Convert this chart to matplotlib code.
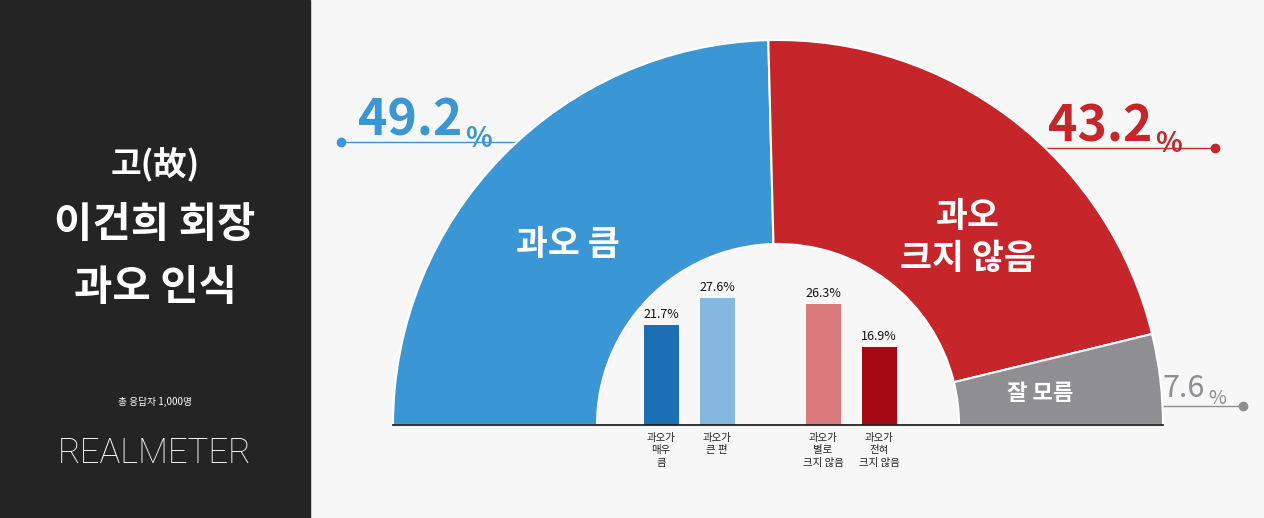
import matplotlib
matplotlib.use("Agg")
import matplotlib.pyplot as plt
from matplotlib.patches import Wedge, Rectangle

plt.rcParams['font.family'] = ['Noto Sans CJK KR', 'DejaVu Sans']

main_labels = ["과오 큼", "과오\n크지 않음", "잘 모름"]
main_values = [49.2, 43.2, 7.6]
main_colors = ["#3a96d4", "#c6252a", "#8e8e93"]
sub_labels = ["과오가\n매우\n큼", "과오가\n큰 편", "과오가\n별로\n크지 않음", "과오가\n전혀\n크지 않음"]
sub_values = [21.7, 27.6, 26.3, 16.9]
sub_colors = ["#1a6fb5", "#85b8e0", "#db7b7e", "#a50a14"]

W, H = 1264, 518
fig = plt.figure(figsize=(W / 100, H / 100), dpi=100)
ax = fig.add_axes([0, 0, 1, 1])
ax.set_xlim(0, W)
ax.set_ylim(0, H)
ax.axis("off")
fig.patch.set_facecolor("#f7f7f7")

def Y(p):
    return H - p

# left panel
ax.add_patch(Rectangle((0, 0), 310, H, color="#242424", zorder=0))
ax.text(155, Y(165), "고(故)", color="white", fontsize=24, ha="center", va="center", weight="bold")
ax.text(155, Y(225), "이건희 회장", color="white", fontsize=30, ha="center", va="center", weight="bold")
ax.text(155, Y(288), "과오 인식", color="white", fontsize=30, ha="center", va="center", weight="bold")
ax.text(155, Y(402), "총 응답자 1,000명", color="white", fontsize=7, ha="center", va="center")
ax.text(155, Y(453), "REALMETER", color="white", fontsize=25, ha="center", va="center",
        family=["Roboto", "DejaVu Sans"], weight="light")

# half donut
cx, cy = 778, Y(425)
R, r = 385, 181
ang = 180.0
for v, c in zip(main_values, main_colors):
    a2 = ang - v * 1.8
    ax.add_patch(Wedge((cx, cy), R, a2, ang, width=R - r, facecolor=c, edgecolor="white", lw=1.5, zorder=2))
    ang = a2

ax.text(568, Y(245), main_labels[0], color="white", fontsize=25, ha="center", va="center", weight="bold", zorder=5)
ax.text(968, Y(238), main_labels[1], color="white", fontsize=25, ha="center", va="center", weight="bold", zorder=5, linespacing=1.25)
ax.text(1040, Y(393), main_labels[2], color="white", fontsize=16, ha="center", va="center", weight="bold", zorder=5)

# baseline
ax.plot([393, 1163], [cy, cy], color="#222222", lw=1.3, zorder=4)

def value_label(x, y, v, color, size, psize, ha="left", weight="bold"):
    t = ax.text(x, y, f"{v}", color=color, fontsize=size, ha=ha, va="baseline", weight=weight)
    ax.annotate("%", xy=(1, 0), xycoords=t, xytext=(2, 0), textcoords="offset points",
                color=color, fontsize=psize, ha="left", va="baseline", weight=weight)

# leader lines + values
ax.plot([341, 520], [Y(142), Y(142)], color="#3a96d4", lw=1, zorder=1)
ax.plot(341, Y(142), "o", color="#3a96d4", ms=6)
value_label(358, Y(136), main_values[0], "#3a96d4", 36, 20)

ax.plot([1035, 1215], [Y(148), Y(148)], color="#c6252a", lw=1, zorder=1)
ax.plot(1215, Y(148), "o", color="#c6252a", ms=6)
value_label(1048, Y(141), main_values[1], "#c6252a", 36, 20)

ax.plot([1130, 1243], [Y(406), Y(406)], color="#8e8e93", lw=1, zorder=1)
ax.plot(1243, Y(406), "o", color="#8e8e93", ms=6)
value_label(1163, Y(397), main_values[2], "#8e8e93", 22, 14, weight="normal")

# inner bars
bx = [661, 717, 823, 879]
scale = 4.6
ax.bar(bx, [v * scale for v in sub_values], width=35, bottom=cy, color=sub_colors, zorder=3)
for x, v, lab in zip(bx, sub_values, sub_labels):
    ax.text(x, cy + v * scale + 4, f"{v}%", fontsize=9, ha="center", va="bottom", color="#111111", zorder=5)
    ax.text(x, Y(433), lab, fontsize=7.5, ha="center", va="top", color="#222222", linespacing=1.3)

fig.savefig("out.png", dpi=100, facecolor=fig.get_facecolor())
